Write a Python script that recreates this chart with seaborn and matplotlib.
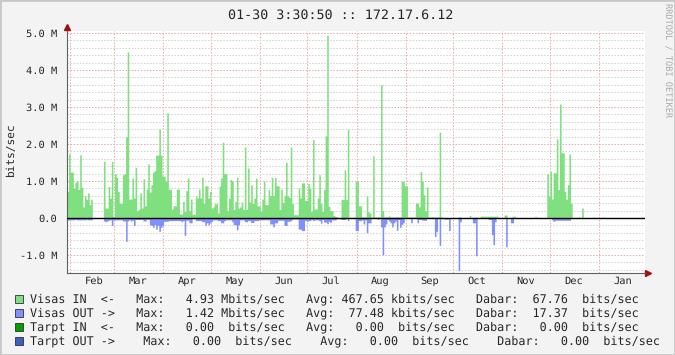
import numpy as np
import pandas as pd
import matplotlib
matplotlib.use('Agg')
import matplotlib.pyplot as plt
import seaborn as sns
from matplotlib.patches import Rectangle

sns.set_style('white')
plt.rcParams['font.family'] = ['DejaVu Sans Mono', 'DejaVu Sans']
plt.rcParams['lines.scale_dashes'] = False
plt.rcParams['text.hinting'] = 'no_hinting'

# 数据：一年内每天的流量 (Mbits/sec)，从 01-30 开始
start = pd.Timestamp('2010-01-30 03:30:50')
end = pd.Timestamp('2011-01-30 03:30:50')

visas_in = [
    0.72, 1.73, 1.24, 1.24, 0.80, 0.97, 1.00, 0.77, 1.71, 0.83,
    0.30, 0.60, 0.50, 0.68, 0.36, 0.51, 0, 0, 0, 0,
    0, 0, 0, 1.53, 0.27, 0.27, 0.85, 0.54, 1.53, 0.05,
    1.20, 1.10, 0.72, 0.40, 0.40, 1.17, 1.20, 2.20, 4.49, 0.51,
    0.51, 1.08, 0.54, 1.37, 0.20, 0.24, 0.68, 0.27, 1.06, 0.33,
    0.78, 1.46, 0.70, 0.90, 1.24, 1.28, 1.70, 1.70, 2.40, 1.70,
    1.14, 1.13, 0.99, 2.84, 0.78, 0.78, 0.24, 0.33, 0.33, 0.78,
    0.78, 0.11, 0.11, 0.45, 0.18, 0.74, 1.08, 0.20, 0.51, 0.10,
    0.10, 0.60, 0.54, 0.78, 0.54, 1.10, 0.40, 0.87, 0.87, 0.54,
    0.72, 0.27, 0.30, 0.39, 0.39, 0.14, 0.86, 1.08, 2.05, 1.20,
    1.20, 0.20, 0.54, 1.04, 1.00, 0.23, 0.45, 1.10, 0.27, 0.30,
    0.43, 0.23, 1.92, 0.23, 1.35, 0.43, 0.90, 0.39, 0.54, 1.08,
    0.33, 0.33, 0.18, 0.51, 0.99, 0.36, 0.36, 0.77, 0.61, 1.10,
    0.61, 1.10, 0.87, 0.87, 0.23, 0.78, 0.42, 0.61, 1.51, 0.60,
    0.56, 1.92, 0.39, 0.09, 0.09, 0.09, 0.81, 0.54, 0.95, 0.95,
    0.48, 0.48, 0.93, 0.81, 0.18, 2.12, 0.24, 0.24, 0.54, 1.17,
    0.40, 0.18, 0.77, 2.22, 4.94, 0.32, 0.20, 0.20, 0.07, 0.05,
    0.03, 0, 0, 0.50, 0.50, 1.30, 0.50, 2.39, 0.02, 0,
    0, 0.03, 0.99, 0.99, 0.33, 0.33, 0.03, 0.03, 0.03, 0.60,
    0.17, 0.13, 0.03, 1.68, 0.03, 0.03, 0.03, 0.03, 3.60, 0.20,
    0.03, 0.03, 0.03, 0.06, 0.03, 0.03, 0.03, 0.03, 0.03, 0.03,
    0.03, 0.99, 0.99, 0.87, 0.87, 0.03, 0.03, 0.03, 0.03, 0.03,
    0.40, 0.40, 0.30, 1.26, 0.99, 0.63, 0.20, 0.84, 0.03, 0.03,
    0.03, 0.03, 0.03, 0.03, 0.03, 2.32, 0.03, 0, 0, 0,
    0, 0, 0, 0, 0, 0, 0, 0.03, 0.03, 0,
    0, 0, 0, 0, 0.07, 0.02, 0, 0.03, 0.03, 0,
    0, 0.05, 0.05, 0.05, 0.05, 0.05, 0.05, 0.05, 0.05, 0.05,
    0.05, 0.05, 0, 0, 0, 0, 0.08, 0.08, 0, 0.02,
    0, 0.05, 0.05, 0, 0, 0, 0, 0, 0, 0,
    0, 0, 0, 0, 0, 0.03, 0.03, 0, 0, 0,
    0, 0, 0, 1.20, 0.60, 1.26, 0.51, 1.22, 1.22, 2.14,
    0.77, 3.08, 1.76, 1.76, 0.72, 0.51, 0.90, 1.73, 0.40, 0,
    0, 0, 0, 0.03, 0, 0.27, 0, 0, 0, 0,
    0, 0, 0.03, 0, 0, 0, 0, 0, 0.03, 0,
    0, 0, 0, 0, 0, 0, 0, 0, 0, 0,
    0, 0, 0, 0, 0, 0, 0, 0, 0, 0,
    0, 0, 0, 0, 0,
]

visas_out = [
    -0.06, -0.05, -0.05, -0.05, -0.05, -0.04, -0.05, -0.05, -0.05, -0.05,
    -0.05, -0.05, -0.04, -0.05, -0.05, -0.05, 0, 0, 0, 0,
    0, 0, 0, -0.08, -0.10, -0.08, -0.06, -0.05, -0.20, -0.05,
    -0.05, -0.05, -0.05, -0.05, -0.05, -0.08, -0.08, -0.63, -0.08, -0.05,
    -0.08, -0.06, -0.20, -0.04, -0.04, -0.04, -0.04, -0.04, -0.08, -0.08,
    -0.03, -0.04, -0.18, -0.20, -0.25, -0.18, -0.30, -0.20, -0.36, -0.25,
    -0.20, -0.09, -0.09, -0.09, -0.07, -0.07, -0.07, -0.07, -0.07, -0.07,
    -0.07, -0.07, -0.10, -0.07, -0.47, -0.06, -0.06, -0.13, -0.13, -0.02,
    -0.02, -0.07, -0.07, -0.07, -0.07, -0.10, -0.10, -0.20, -0.13, -0.18,
    -0.13, -0.09, -0.05, -0.05, -0.05, -0.07, -0.07, -0.13, -0.13, -0.07,
    -0.05, -0.05, -0.05, -0.05, -0.10, -0.18, -0.18, -0.32, -0.18, -0.05,
    -0.05, -0.05, -0.10, -0.10, -0.07, -0.07, -0.12, -0.12, -0.07, -0.07,
    -0.07, -0.05, -0.05, -0.05, -0.05, -0.05, -0.05, -0.05, -0.16, -0.16,
    -0.24, -0.13, -0.13, -0.06, -0.06, -0.06, -0.06, -0.20, -0.20, -0.09,
    -0.09, -0.07, -0.03, -0.03, -0.03, -0.03, -0.30, -0.30, -0.34, -0.34,
    -0.06, -0.09, -0.07, -0.07, -0.04, -0.07, -0.05, -0.05, -0.05, -0.07,
    -0.14, -0.04, -0.11, -0.11, -0.15, -0.09, -0.12, -0.05, -0.05, -0.05,
    -0.02, -0.02, -0.02, -0.04, -0.04, -0.04, 0, -0.07, 0, 0,
    0, 0, -0.34, -0.34, -0.07, -0.07, -0.05, -0.16, -0.05, -0.39,
    -0.13, -0.13, -0.01, -0.01, -0.01, -0.01, -0.04, -0.01, -0.24, -0.99,
    -0.24, -0.16, -0.04, -0.08, -0.13, -0.24, -0.13, -0.08, -0.33, -0.04,
    -0.25, -0.17, -0.13, -0.01, -0.01, -0.01, 0, -0.13, -0.01, -0.01,
    -0.01, -0.13, -0.04, -0.04, -0.06, -0.06, -0.06, -0.01, -0.01, -0.01,
    -0.01, -0.01, -0.50, -0.36, 0, -0.74, 0, 0, -0.03, -0.03,
    -0.03, -0.34, 0, 0, 0, 0, 0, -1.42, -0.10, 0,
    0, 0, 0, 0, 0, 0, -0.13, -0.13, -1.02, 0,
    0, 0, 0, 0, 0, 0, -0.04, -0.04, -0.45, -0.72,
    -0.10, 0, 0, 0, 0, 0, 0, -0.78, 0, 0,
    -0.13, -0.13, 0, 0, 0, 0, 0, 0, 0, 0,
    0, 0, 0, 0, 0, 0, 0, 0, 0, 0,
    0, 0, 0, 0, 0, 0, -0.05, -0.09, -0.06, -0.06,
    -0.06, -0.06, -0.06, -0.06, -0.06, -0.06, -0.06, -0.06, 0, 0,
    0, 0, 0, 0, 0, 0, 0, 0, 0, 0,
    0, 0, 0, 0, 0, 0, 0, 0, 0, 0,
    0, 0, 0, 0, 0, 0, 0, 0, 0, 0,
    0, 0, 0, 0, 0, 0, 0, 0, 0, 0,
    0, 0, 0, 0, 0,
]

y_ticks = [-1, 0, 1, 2, 3, 4, 5]
y_labels = ['-1.0 M', '0.0', '1.0 M', '2.0 M', '3.0 M', '4.0 M', '5.0 M']
month_names = ['Feb', 'Mar', 'Apr', 'May', 'Jun', 'Jul', 'Aug', 'Sep', 'Oct', 'Nov', 'Dec', 'Jan']

legend_rows = [
    ('Visas IN  <-   Max:   4.93 Mbits/sec   Avg: 467.65 kbits/sec   Dabar:  67.76  bits/sec', '#80e080'),
    ('Visas OUT ->   Max:   1.42 Mbits/sec   Avg:  77.48 kbits/sec   Dabar:  17.37  bits/sec', '#8090ff'),
    ('Tarpt IN  <-   Max:   0.00  bits/sec   Avg:   0.00  bits/sec   Dabar:   0.00  bits/sec', '#00a000'),
    ('Tarpt OUT ->    Max:   0.00  bits/sec    Avg:   0.00  bits/sec    Dabar:   0.00  bits/sec', '#4060c0'),
]

df = pd.DataFrame({'day': np.arange(len(visas_in)) + 0.5, 'in': visas_in, 'out': visas_out})
n_days = (end - start) / pd.Timedelta(days=1)

W, H = 675, 355
fig = plt.figure(figsize=(W / 100, H / 100), dpi=100, facecolor='#f3f3f3')
ax = fig.add_axes([67 / W, 1 - 273 / H, 578 / W, 242 / H])
ax.set_facecolor('white')

# 面积图
sns.histplot(data=df, x='day', weights='in', binwidth=1, binrange=(0, len(visas_in)),
             element='step', fill=True, color='#80e080', alpha=1, linewidth=0, ax=ax)
sns.histplot(data=df, x='day', weights='out', binwidth=1, binrange=(0, len(visas_out)),
             element='step', fill=True, color='#8090ff', alpha=1, linewidth=0, ax=ax)
ax.axhline(0, color='black', lw=1.0, zorder=5)

ax.set_xlim(0, n_days)
ax.set_ylim(-1.486, 5.054)

# 网格
month_starts = pd.date_range('2010-02-01', '2011-01-01', freq='MS')
month_pos = (month_starts - start) / pd.Timedelta(days=1)
ax.set_xticks(month_pos)
ax.set_xticklabels([])
ax.set_xticks(month_pos + 15, minor=True)
ax.set_xticklabels(month_names, minor=True, fontsize=7.5)
ax.set_yticks(y_ticks)
ax.set_yticklabels(y_labels, fontsize=7.5)
ax.set_yticks(np.arange(-1.4, 5.01, 0.2), minor=True)

dots = (0, (1.1, 1.1))
ax.grid(True, which='major', axis='both', color='#e6b0b0', lw=0.75, linestyle=dots)
ax.grid(True, which='minor', axis='y', color='#d4d4d4', lw=0.75, linestyle=dots)
ax.set_axisbelow(True)

ax.tick_params(axis='y', which='major', length=3, width=0.7, color='#606060', pad=4)
ax.tick_params(axis='y', which='minor', length=2, width=0.7, color='#606060')
ax.tick_params(axis='x', which='major', length=2, width=0.7, color='#606060')
ax.tick_params(axis='x', which='minor', length=0, pad=2)

for s in ['top', 'right']:
    ax.spines[s].set_visible(False)
for s in ['left', 'bottom']:
    ax.spines[s].set_color('#606060')
    ax.spines[s].set_linewidth(0.8)

# 坐标轴箭头
ax.plot([0, 0], [1, 1.016], transform=ax.transAxes, clip_on=False, color='#606060', lw=0.8)
ax.plot([0], [1.016], marker='^', ms=4, color='#a01010', transform=ax.transAxes, clip_on=False)
ax.plot([1, 1.005], [0, 0], transform=ax.transAxes, clip_on=False, color='#606060', lw=0.8)
ax.plot([1.005], [0], marker='>', ms=4, color='#a01010', transform=ax.transAxes, clip_on=False)

ax.set_xlabel('')
ax.set_ylabel('')

# 标题和文字
fig.text(341 / W, 1 - 15 / H, '01-30 3:30:50 :: 172.17.6.12', ha='center', va='center', fontsize=9.6)
fig.text(11 / W, 1 - 149 / H, 'bits/sec', rotation=90, ha='center', va='center', fontsize=8)
fig.text(667 / W, 1 - 60 / H, 'RRDTOOL / TOBI OETIKER', rotation=270, ha='center', va='center',
         fontsize=6.2, color='#aaaaaa')

# 图例
for i, (txt, col) in enumerate(legend_rows):
    yc = 299 + 14 * i
    fig.patches.append(Rectangle((15 / W, 1 - (yc + 4) / H), 8 / W, 8 / H, transform=fig.transFigure,
                                 facecolor=col, edgecolor='#303030', lw=0.6))
    fig.text(30 / W, 1 - yc / H, txt, ha='left', va='center', fontsize=8.45)

# 边框
fig.patches.append(Rectangle((0, 0), 1, 1, transform=fig.transFigure, fill=False,
                             edgecolor='#c8c8c8', lw=2))

plt.savefig('out.png', dpi=100, facecolor=fig.get_facecolor())
